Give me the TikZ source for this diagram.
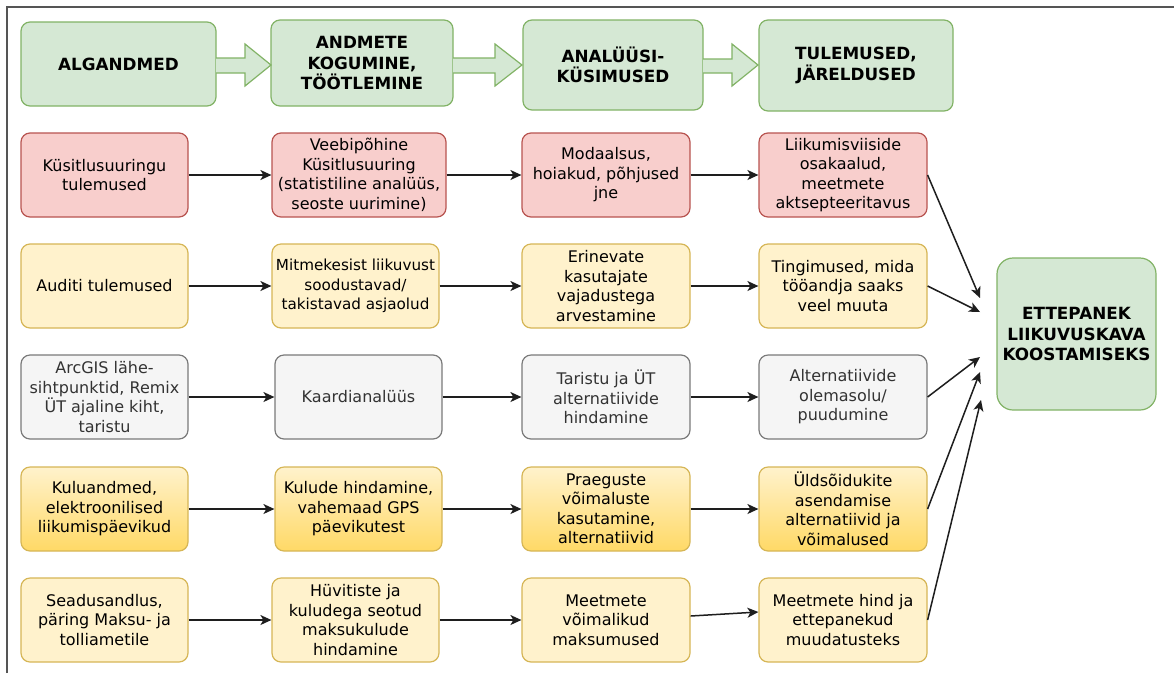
\documentclass[tikz,border=0pt]{standalone}
\usepackage{fontspec}
\setmainfont{DejaVu Sans}
\usetikzlibrary{arrows.meta,calc}
\definecolor{gfill}{HTML}{D5E8D4}
\definecolor{gline}{HTML}{82B366}
\definecolor{rfill}{HTML}{F8CECC}
\definecolor{rline}{HTML}{B85450}
\definecolor{yfill}{HTML}{FFF2CC}
\definecolor{yline}{HTML}{D6B656}
\definecolor{sfill}{HTML}{F5F5F5}
\definecolor{sline}{HTML}{7A7A7A}
\definecolor{stext}{HTML}{333333}
\definecolor{gold}{HTML}{FFD966}
\definecolor{frame}{HTML}{555555}
\definecolor{arr}{HTML}{1E1E1E}
\newcommand\myfs{\fontsize{16}{19.5}\selectfont}
\newcommand\myhfs{\fontsize{16.8}{20.5}\selectfont}
\tikzset{
  base/.style={rounded corners=9pt, line width=1.2pt, align=center, inner sep=0pt, font=\myfs},
  hbox/.style={base, fill=gfill, draw=gline, font=\myhfs\bfseries},
  bigbox/.style={hbox, rounded corners=16pt},
  redbox/.style={base, fill=rfill, draw=rline},
  yelbox/.style={base, fill=yfill, draw=yline},
  graybox/.style={base, fill=sfill, draw=sline, text=stext},
  goldbox/.style={base, top color=yfill, bottom color=gold, draw=yline},
  flow/.style={line width=1.5pt, draw=arr, -{Stealth[length=11pt,width=10pt,inset=3pt]}},
  blockarrow/.style={fill=gfill, draw=gline, line width=1.2pt, line join=miter},
  sz/.style 2 args={minimum width=#1pt, minimum height=#2pt}
}
\begin{document}
\begin{tikzpicture}[x=1pt,y=-1pt]
\useasboundingbox (0,0) rectangle (1174,673);
\fill[white] (0,0) rectangle (1174,673);
% frame
\draw[frame, line width=2pt] (7,673) -- (7,7) -- (1174,7);

% header
\node[hbox, sz={195}{84}] (h1) at (118.5,64) {ALGANDMED};
\node[hbox, sz={182}{86}] (h2) at (362,63) {ANDMETE\\KOGUMINE,\\TÖÖTLEMINE};
\node[hbox, sz={180}{90}] (h3) at (613,65) {ANALÜÜSI-\\KÜSIMUSED};
\node[hbox, sz={194}{91}] (h4) at (856,65.5) {TULEMUSED,\\JÄRELDUSED};

% block arrows
\draw[blockarrow] (216,58) -- (245,58) -- (245,44) -- (271,65) -- (245,86) -- (245,73) -- (216,73);
\draw[blockarrow] (453,58) -- (495,58) -- (495,44) -- (522,65) -- (495,86) -- (495,73) -- (453,73);
\draw[blockarrow] (703,59) -- (732,59) -- (732,44) -- (758,65) -- (732,86) -- (732,73) -- (703,73);

% row 1
\node[redbox, sz={167}{84}] (a1) at (104.5,175) {Küsitlusuuringu\\tulemused};
\node[redbox, sz={174}{84}] (b1) at (359,175) {Veebipõhine\\Küsitlusuuring\\(statistiline analüüs,\\seoste uurimine)};
\node[redbox, sz={168}{84}] (c1) at (606,175) {Modaalsus,\\hoiakud, põhjused\\jne};
\node[redbox, sz={168}{84}] (d1) at (843,175) {Liikumisviiside\\osakaalud,\\meetmete\\aktsepteeritavus};

% row 2
\node[yelbox, sz={167}{84}] (a2) at (104.5,286) {Auditi tulemused};
\node[yelbox, sz={167}{84}, font=\fontsize{15.2}{19.5}\selectfont] (b2) at (355.5,286) {Mitmekesist liikuvust\\soodustavad/\\takistavad asjaolud};
\node[yelbox, sz={168}{84}] (c2) at (606,286) {Erinevate\\kasutajate\\vajadustega\\arvestamine};
\node[yelbox, sz={168}{84}] (d2) at (843,286) {Tingimused, mida\\tööandja saaks\\veel muuta};

% row 3
\node[graybox, sz={167}{84}] (a3) at (104.5,397) {ArcGIS lähe-\\sihtpunktid, Remix\\ÜT ajaline kiht,\\taristu};
\node[graybox, sz={167}{84}] (b3) at (358.5,397) {Kaardianalüüs};
\node[graybox, sz={168}{84}] (c3) at (606,397) {Taristu ja ÜT\\alternatiivide\\hindamine};
\node[graybox, sz={168}{84}] (d3) at (843,397) {Alternatiivide\\olemasolu/\\puudumine};

% row 4
\node[goldbox, sz={167}{84}] (a4) at (104.5,509) {Kuluandmed,\\elektroonilised\\liikumispäevikud};
\node[goldbox, sz={167}{84}] (b4) at (358.5,509) {Kulude hindamine,\\vahemaad GPS\\päevikutest};
\node[goldbox, sz={168}{84}] (c4) at (606,509) {Praeguste\\võimaluste\\kasutamine,\\alternatiivid};
\node[goldbox, sz={168}{84}] (d4) at (843,509) {Üldsõidukite\\asendamise\\alternatiivid ja\\võimalused};

% row 5
\node[yelbox, sz={167}{84}] (a5) at (104.5,620) {Seadusandlus,\\päring Maksu- ja\\tolliametile};
\node[yelbox, sz={167}{84}] (b5) at (355.5,620) {Hüvitiste ja\\kuludega seotud\\maksukulude\\hindamine};
\node[yelbox, sz={168}{84}] (c5) at (606,620) {Meetmete\\võimalikud\\maksumused};
\node[yelbox, sz={168}{84}] (d5) at (843,620) {Meetmete hind ja\\ettepanekud\\muudatusteks};

% final box
\node[bigbox, sz={159}{152}] (e) at (1076.5,334) {ETTEPANEK\\LIIKUVUSKAVA\\KOOSTAMISEKS};

% horizontal connectors
\foreach \r in {1,2,3,4}{
  \draw[flow] (a\r) -- (b\r);
  \draw[flow] (b\r) -- (c\r);
  \draw[flow] (c\r) -- (d\r);
}
\draw[flow] (a5) -- (b5);
\draw[flow] (b5) -- (c5);
\draw[flow] ([yshift=4pt]c5.east) -- ([yshift=8pt]d5.west);

% converging connectors
\coordinate (t1) at (980,298);
\coordinate (t2) at (980,312);
\coordinate (t3) at (980,357);
\coordinate (t4) at (980,372);
\coordinate (t5) at (981,400);
\draw[flow] (d1.east) -- (t1);
\draw[flow] (d2.east) -- (t2);
\draw[flow] (d3.east) -- (t3);
\draw[flow] (d4.east) -- (t4);
\draw[flow] (d5.east) -- (t5);
\end{tikzpicture}
\end{document}
